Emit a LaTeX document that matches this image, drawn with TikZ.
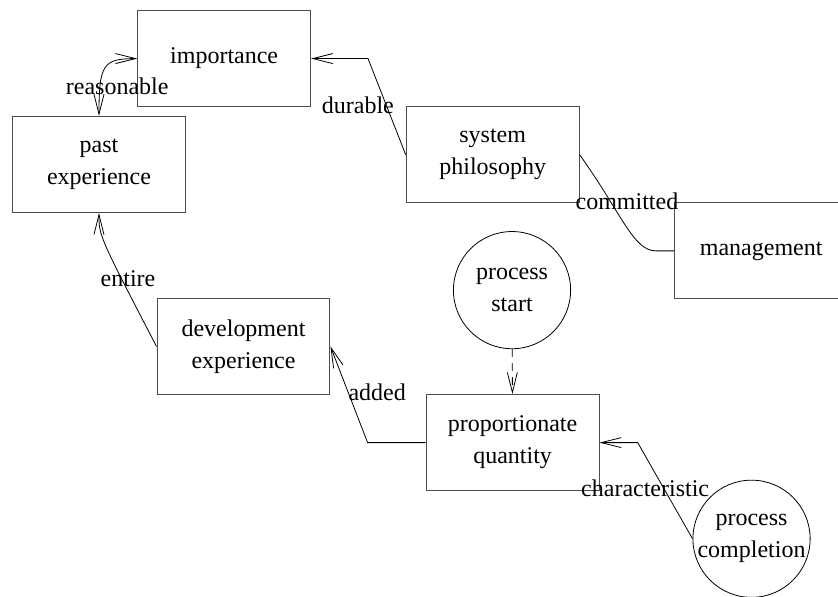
\documentclass[tikz,border=0pt]{standalone}
\usepackage{fontspec}
\setmainfont{Liberation Serif}
\usetikzlibrary{positioning,arrows.meta,calc}

\begin{document}
\begin{tikzpicture}[>={Straight Barb[length=10pt,width=5pt]},
    every node/.append style={font=\fontsize{12}{16}\selectfont},
    box/.style={draw=black!70,line width=0.5pt,minimum width=3.04cm,minimum height=1.69cm,align=center},
    blob/.style={draw,circle,line width=0.4pt,minimum size=2.06cm,inner sep=-1pt,align=center},
    lbl/.style={inner sep=0pt}]
  \useasboundingbox (0,0) rectangle (14.73,-10.49);
  \node[box] (importance) at (3.94,-1.03){importance};
  \node[box] (past) at (1.74,-2.89){past\\experience};
  \node[box] (philosophy) at (8.66,-2.72){system\\philosophy};
  \node[box] (management) at (13.38,-4.41){management};
  \node[blob] (start) at (9.0,-5.1){process\\start};
  \node[box] (development) at (4.28,-6.09){development\\experience};
  \node[box] (proportionate) at (9.01,-7.78){proportionate\\quantity};
  \node[blob] (completion) at (13.21,-9.47){process\\completion};

  \draw[<->] (importance.west) .. controls +(-0.6,0) and +(0,0.9) .. (past.north);
  \draw[->] (philosophy.west) -- ([xshift=1cm]importance.east) -- (importance.east);
  \draw (philosophy.east) .. controls +(0.75,-1.05) and +(-0.4,0) .. ([xshift=-0.32cm]management.west) -- (management.west);
  \draw[->] (development.west) .. controls ([yshift=-0.4cm]past.south) .. (past.south);
  \draw[->] (proportionate.west) -- ([xshift=-1.02cm]proportionate.west) -- (development.east);
  \draw[->,dash pattern=on 4pt off 3pt] (start) -- (proportionate);
  \draw[->] (completion.west) -- ([xshift=0.67cm]proportionate.east) -- (proportionate.east);

  \node[lbl] (reasonable) at (2.06,-1.51){reasonable};
  \node[lbl] (durable) at (6.29,-1.85){durable};
  \node[lbl] (committed) at (11.02,-3.53){committed};
  \node[lbl] (entire) at (2.25,-4.89){entire};
  \node[lbl] (added) at (6.63,-6.89){added};
  \node[lbl] (characteristic) at (11.34,-8.58){characteristic};
\end{tikzpicture}
\end{document}
